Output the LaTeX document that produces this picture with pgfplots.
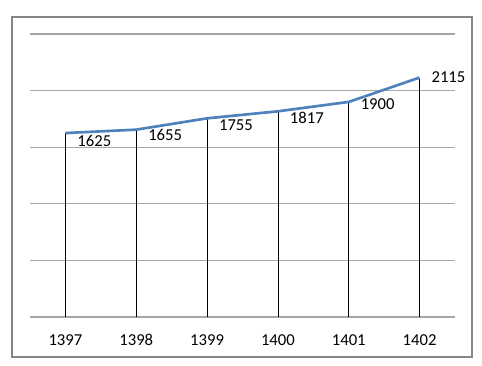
\documentclass[border=0pt]{standalone}
\usepackage{pgfplots}
\pgfplotsset{compat=1.18}
\usepackage{pgfplotstable}
\usepackage{fontspec}
\setmainfont{Carlito}
\definecolor{lineblue}{HTML}{4F81BD}
\definecolor{gridgray}{HTML}{A6A6A6}
\definecolor{framegray}{HTML}{868686}
\pgfplotstableread{
x y dy lab
0 1625 -6 1625
1 1655 -4 1655
2 1755 -5 1755
3 1817 -5 1817
4 1900 -1.5 1900
5 2115 0 2115
}\datatable
\begin{document}
\begin{tikzpicture}
\fill[white] (0,0) rectangle (361.5pt,274.5pt);
\draw[framegray, line width=1pt] (9pt,6.75pt) rectangle (354pt,261.75pt);
\begin{axis}[
  at={(22.5pt,36.75pt)}, anchor=south west,
  scale only axis, width=318.75pt, height=212.25pt,
  xmin=-0.5, xmax=5.5, ymin=0, ymax=2500,
  axis line style={draw=none},
  ytick={0,500,...,2500}, yticklabels={},
  ymajorgrids, grid style={gridgray, line width=0.8pt},
  xtick={0,1,2,3,4,5}, xticklabels={1397,1398,1399,1400,1401,1402},
  major tick length=0pt,
  xticklabel style={anchor=north, yshift=-9pt, text height=9pt, text depth=0pt, font=\fontsize{12.5}{14}\selectfont},
  clip=false,
]
\addplot[ycomb, black, line width=0.5pt, mark=none] table[x=x,y=y] {\datatable};
\addplot[lineblue, line width=2pt, mark=none,
  nodes near coords,
  point meta=explicit symbolic,
  visualization depends on={\thisrow{dy} \as \dy},
  nodes near coords style={anchor=west, xshift=7pt, yshift=\dy pt, black, font=\fontsize{12.5}{14}\selectfont, inner sep=1pt},
] table[x=x,y=y,meta=lab] {\datatable};
\end{axis}
\end{tikzpicture}
\end{document}
